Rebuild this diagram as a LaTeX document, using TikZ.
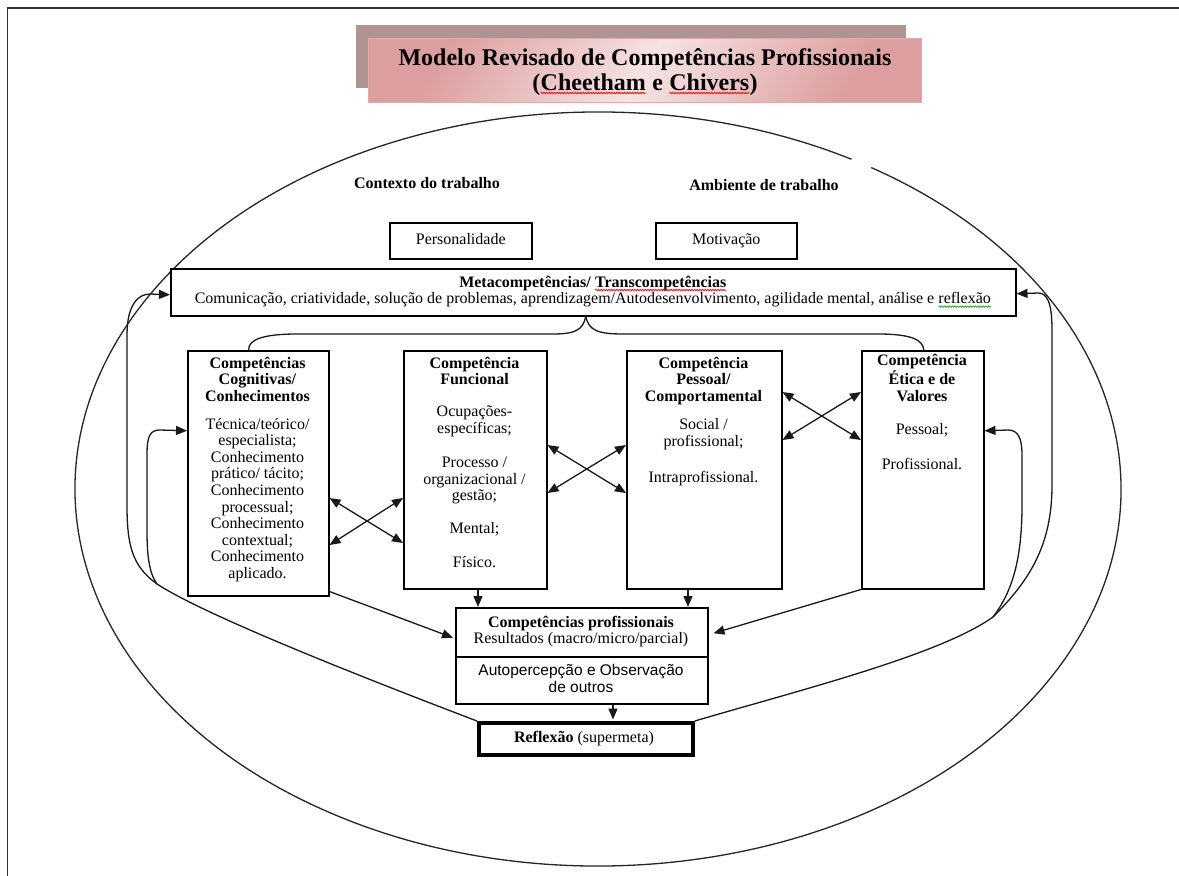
\documentclass[tikz,border=0pt]{standalone}
\usepackage{fontspec}
\setmainfont{Liberation Serif}
\newfontfamily\sansf{Liberation Sans}
\usetikzlibrary{arrows.meta,calc,decorations.pathmorphing}
\definecolor{shadowc}{HTML}{B09494}
\definecolor{pinkdark}{HTML}{DC9E9E}
\definecolor{pinklight}{HTML}{F6E3E3}
\definecolor{pinkedge}{HTML}{E2AAAA}
\definecolor{wavegreen}{HTML}{2EA02E}
\newcommand\wavyline[2]{\tikz[baseline=(w.base)]{\node[inner sep=0pt, outer sep=0pt](w){#2};\draw[#1, line width=0.7pt, decorate, decoration={snake, amplitude=0.8pt, segment length=2.6pt}] ([yshift=-2.8pt]w.base west) -- ([yshift=-2.8pt]w.base east);}}
\begin{document}
\begin{tikzpicture}[x=1pt,y=-1pt,
  box/.style={draw=black, line width=1.5pt, fill=white, inner sep=0pt, anchor=north west, font=\fontsize{16}{16.6}\selectfont},
  txt/.style={font=\fontsize{16}{16.6}\selectfont, align=center, inner sep=0pt, anchor=north},
  ln/.style={line width=1.3pt, draw=black!90},
  arr/.style={ln,-{Triangle[length=11pt,width=9pt]}},
  darr/.style={ln,{Triangle[length=11pt,width=9pt]}-{Triangle[length=11pt,width=9pt]}}
]
\useasboundingbox (0,0) rectangle (1179,876);
\fill[white] (0,0) rectangle (1179,876);
\draw[line width=1.3pt, black!80] (7.5,876) -- (7.5,8) -- (1179,8);

% title
\node[fill=shadowc, minimum width=550pt, minimum height=63pt, inner sep=0pt, anchor=north west] (tsh) at (356,25) {};
\node[draw=pinkedge, line width=1pt, left color=pinkdark, right color=pinkdark, middle color=pinklight, shading angle=60, minimum width=553pt, minimum height=64pt, inner sep=0pt, anchor=north west] (tbx) at (368,38) {};
\node[anchor=north, inner sep=0pt, align=center, font=\fontsize{24}{25}\selectfont\bfseries] (ttl) at (645,47.5) {\strut Modelo Revisado de Competências Profissionais\\(\wavyline{red}{Cheetham} e \wavyline{red}{Chivers})};

% big ellipse
\draw[ln, black!85] (598,489) ++(-58.5:523 and 377) arc[start angle=-58.5, end angle=299, x radius=523, y radius=377];

% labels
\node[txt, font=\fontsize{16}{16.6}\selectfont\bfseries] (ctx) at (427,176.4) {\strut Contexto do trabalho};
\node[txt, font=\fontsize{16}{16.6}\selectfont\bfseries] (amb) at (764,178.4) {\strut Ambiente de trabalho};

\node[box, minimum width=142pt, minimum height=36pt] (pers) at (389,222) {\strut Personalidade};
\node[box, minimum width=141pt, minimum height=36pt] (moti) at (655,222) {\strut Motivação};

\node[box, minimum width=845pt, minimum height=47pt] (meta) at (170,268) {};
\node[txt] (metat) at (593,275.4) {\strut\textbf{Metacompetências/ \wavyline{red}{Transcompetências}}\\Comunicação, criatividade, solução de problemas, aprendizagem/Autodesenvolvimento, agilidade mental, análise e \wavyline{wavegreen}{reflexão}};

% four boxes
\node[box, minimum width=141pt, minimum height=245pt] (cog) at (187,350) {};
\node[box, minimum width=143pt, minimum height=238pt] (fun) at (403,350) {};
\node[box, minimum width=155pt, minimum height=238pt] (pes) at (626,350) {};
\node[box, minimum width=122pt, minimum height=238pt] (eti) at (861,350) {};

\node[txt] (cogt) at (257.5,356.4) {\strut\textbf{Competências}\\\textbf{Cognitivas/}\\\textbf{Conhecimentos}\\[11pt]Técnica/teórico/\\especialista;\\Conhecimento\\prático/ tácito;\\Conhecimento\\processual;\\Conhecimento\\contextual;\\Conhecimento\\aplicado.};
\node[txt] (funt) at (474.5,356.4) {\strut\textbf{Competência}\\\textbf{Funcional}\\[15.4pt]Ocupações-\\específicas;\\[17.4pt]Processo /\\organizacional /\\gestão;\\[16.4pt]Mental;\\[17.4pt]Físico.};
\node[txt] (pest) at (703.5,356.4) {\strut\textbf{Competência}\\\textbf{Pessoal/}\\\textbf{Comportamental}\\[11.4pt]Social /\\profissional;\\[19.4pt]Intraprofissional.};
\node[txt] (etit) at (922,353.4) {\strut\textbf{Competência}\\\textbf{Ética e de}\\\textbf{Valores}\\[16.4pt]Pessoal;\\[18.4pt]Profissional.};

% results
\node[box, minimum width=252pt, minimum height=49pt] (res) at (455,607) {};
\node[box, minimum width=252pt, minimum height=47pt] (obs) at (455,656) {};
\node[txt] (rest) at (581,615.4) {\strut\textbf{Competências profissionais}\\Resultados (macro/micro/parcial)};
\node[txt, font=\sansf\fontsize{15.5}{15.5}\selectfont] (obst) at (581,664) {\strut Autopercepção e Observação\\de outros};

\node[box, line width=3.8pt, minimum width=214pt, minimum height=32pt] (refl) at (477,721) {};
\node[txt] (reflt) at (584,730.4) {\strut\textbf{Reflexão} (supermeta)};

% brace
\coordinate (bt) at ($(meta.south)+(-7.5,0)$);
\draw[ln] (bt) .. controls +(-3,14) and (575,334) .. (552,334) -- (297,334) .. controls (262,334) and (248,340) .. ($(cog.north)+(-9.5,0)$);
\draw[ln] (bt) .. controls +(3,14) and (598,334) .. (623,334) -- (878,334) .. controls (912,334) and (923,340) .. ($(eti.north)+(1,0)$);

% cross arrows
\draw[darr] ($(cog.north east)+(0,148)$) -- ($(fun.north west)+(0,193)$);
\draw[darr] ($(cog.north east)+(0,195)$) -- ($(fun.north west)+(0,148)$);
\draw[darr] ($(fun.north east)+(0,95)$) -- ($(pes.north west)+(0,143)$);
\draw[darr] ($(fun.north east)+(0,143)$) -- ($(pes.north west)+(0,95)$);
\draw[darr] ($(pes.north east)+(0,42)$) -- ($(eti.north west)+(0,90)$);
\draw[darr] ($(pes.north east)+(0,90)$) -- ($(eti.north west)+(0,42)$);

% arrows to results
\draw[arr] ($(fun.south west)+(75,0)$) -- ($(res.north west)+(23,0)$);
\draw[arr] ($(pes.south west)+(62,0)$) -- ($(res.north west)+(233,0)$);
\draw[arr] ($(cog.south east)+(0,-5)$) -- ($(res.west)+(-2,5.5)$);
\draw[arr] (eti.south west) -- ($(res.east)+(5,1)$);
\draw[arr] ($(obs.south west)+(158,0)$) -- ($(refl.north west)+(136,-1.5)$);

% feedback curves left
\draw[arr] (refl.north west) .. controls (330,665) and (200,612) .. (157,584) coordinate (lj)
  .. controls (132,566) and (127,545) .. (127,505) -- (127,335) .. controls (127,305) and (138,294) .. (150,294) -- ($(meta.west)+(0,2.5)$);
\draw[arr] (lj) .. controls (149,573) and (147,555) .. (147,530) -- (147,455) .. controls (147,436) and (150,430) .. (160,430) -- ($(cog.west)+(0,-42.5)$);

% feedback curves right
\draw[arr] (refl.north east) .. controls (800,690) and (940,655) .. (993,617) coordinate (rj)
  .. controls (1030,580) and (1052,545) .. (1052,485) -- (1052,330) .. controls (1052,302) and (1047,293) .. (1038,293) -- ($(meta.east)+(0,1.5)$);
\draw[arr] (rj) .. controls (1012,592) and (1022,560) .. (1022,505) -- (1022,455) .. controls (1022,438) and (1018,430) .. (1008,430) -- ($(eti.east)+(0,-39)$);
\end{tikzpicture}
\end{document}
